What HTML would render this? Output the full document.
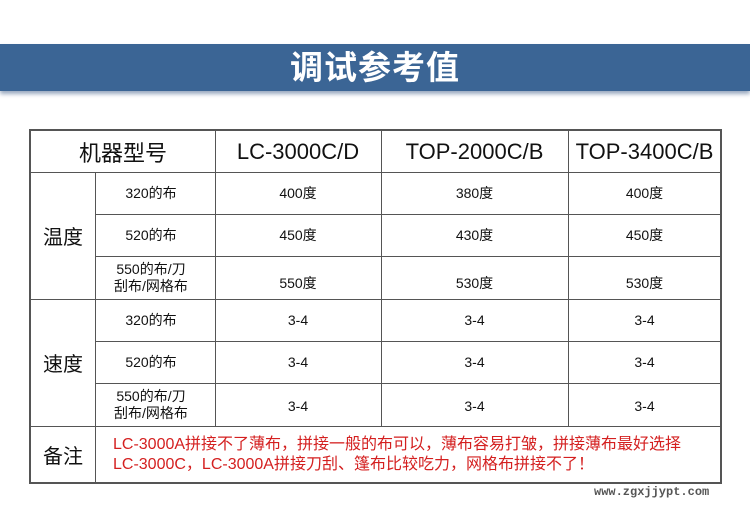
<!DOCTYPE html><html><head><meta charset="utf-8"><style>
body{margin:0;width:750px;height:512px;background:#fff;position:relative;overflow:hidden;font-family:"Liberation Sans","Noto Sans CJK SC",sans-serif}
.band{position:absolute;left:0;top:44px;width:750px;height:47px;background:#3b6595;box-shadow:0 3px 4px #9aa9bf;}
.band div{color:#fff;font-size:33px;font-weight:bold;text-align:center;line-height:47px;letter-spacing:1px}
.h{position:absolute;background:#555;height:1px}
.v{position:absolute;background:#555;width:1px}
.t{position:absolute;display:flex;align-items:center;justify-content:center;text-align:center;color:#111}
</style></head><body>
<div class="band"><div>调试参考值</div></div>
<div class="h" style="left:29px;width:693px;top:129px;height:2px"></div>
<div class="h" style="left:29px;width:693px;top:172px"></div>
<div class="h" style="left:95px;width:627px;top:214px"></div>
<div class="h" style="left:95px;width:627px;top:256px"></div>
<div class="h" style="left:29px;width:693px;top:299px"></div>
<div class="h" style="left:95px;width:627px;top:341px"></div>
<div class="h" style="left:95px;width:627px;top:383px"></div>
<div class="h" style="left:29px;width:693px;top:426px"></div>
<div class="h" style="left:29px;width:693px;top:482px;height:2px"></div>
<div class="v" style="left:29px;top:129px;height:355px;width:2px"></div>
<div class="v" style="left:95px;top:172px;height:311px"></div>
<div class="v" style="left:215px;top:129px;height:297px"></div>
<div class="v" style="left:381px;top:129px;height:297px"></div>
<div class="v" style="left:568px;top:129px;height:297px"></div>
<div class="v" style="left:720px;top:129px;height:355px;width:2px"></div>
<div class="t" style="left:31px;top:131px;width:184px;height:41px;font-size:22px">机器型号</div>
<div class="t" style="left:215px;top:131px;width:166px;height:41px;font-size:22px">LC-3000C/D</div>
<div class="t" style="left:381px;top:131px;width:187px;height:41px;font-size:22px">TOP-2000C/B</div>
<div class="t" style="left:568px;top:131px;width:153px;height:41px;font-size:22px">TOP-3400C/B</div>
<div class="t" style="left:31px;top:172px;width:64px;height:127px;font-size:20px">温度</div>
<div class="t" style="left:31px;top:299px;width:64px;height:127px;font-size:20px">速度</div>
<div class="t" style="left:31px;top:426px;width:64px;height:56px;font-size:20px">备注</div>
<div class="t" style="left:95px;top:172px;width:112px;height:42px;font-size:14px">320的布</div>
<div class="t" style="left:95px;top:214px;width:112px;height:42px;font-size:14px">520的布</div>
<div class="t" style="left:95px;top:256px;width:112px;height:43px;font-size:14px;line-height:17px">550的布/刀<br>刮布/网格布</div>
<div class="t" style="left:95px;top:299px;width:112px;height:42px;font-size:14px">320的布</div>
<div class="t" style="left:95px;top:341px;width:112px;height:42px;font-size:14px">520的布</div>
<div class="t" style="left:95px;top:383px;width:112px;height:43px;font-size:14px;line-height:17px">550的布/刀<br>刮布/网格布</div>
<div class="t" style="left:215px;top:172px;width:166px;height:42px;font-size:14px">400度</div>
<div class="t" style="left:381px;top:172px;width:187px;height:42px;font-size:14px">380度</div>
<div class="t" style="left:568px;top:172px;width:153px;height:42px;font-size:14px">400度</div>
<div class="t" style="left:215px;top:214px;width:166px;height:42px;font-size:14px">450度</div>
<div class="t" style="left:381px;top:214px;width:187px;height:42px;font-size:14px">430度</div>
<div class="t" style="left:568px;top:214px;width:153px;height:42px;font-size:14px">450度</div>
<div class="t" style="left:215px;top:262px;width:166px;height:42px;font-size:14px">550度</div>
<div class="t" style="left:381px;top:262px;width:187px;height:42px;font-size:14px">530度</div>
<div class="t" style="left:568px;top:262px;width:153px;height:42px;font-size:14px">530度</div>
<div class="t" style="left:215px;top:299px;width:166px;height:42px;font-size:14px">3-4</div>
<div class="t" style="left:381px;top:299px;width:187px;height:42px;font-size:14px">3-4</div>
<div class="t" style="left:568px;top:299px;width:153px;height:42px;font-size:14px">3-4</div>
<div class="t" style="left:215px;top:341px;width:166px;height:42px;font-size:14px">3-4</div>
<div class="t" style="left:381px;top:341px;width:187px;height:42px;font-size:14px">3-4</div>
<div class="t" style="left:568px;top:341px;width:153px;height:42px;font-size:14px">3-4</div>
<div class="t" style="left:215px;top:385px;width:166px;height:42px;font-size:14px">3-4</div>
<div class="t" style="left:381px;top:385px;width:187px;height:42px;font-size:14px">3-4</div>
<div class="t" style="left:568px;top:385px;width:153px;height:42px;font-size:14px">3-4</div>
<div style="position:absolute;left:113px;top:435px;width:600px;color:#d42020;font-size:16px;line-height:20px;white-space:nowrap">LC-3000A拼接不了薄布，拼接一般的布可以，薄布容易打皱，拼接薄布最好选择<br>LC-3000C，LC-3000A拼接刀刮、篷布比较吃力，网格布拼接不了！</div>
<div style="position:absolute;left:594px;top:485px;font-family:'Liberation Mono',monospace;font-size:12px;font-weight:bold;color:#555">www.zgxjjypt.com</div>
</body></html>
